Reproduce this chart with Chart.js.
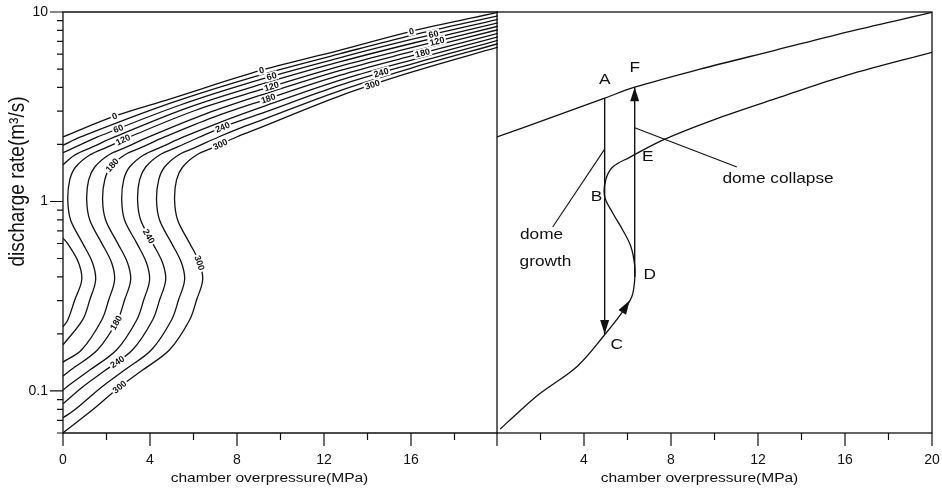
<!DOCTYPE html>
<html>
<head>
<meta charset="utf-8">
<script src="https://cdn.jsdelivr.net/npm/chart.js@4.4.1/dist/chart.umd.min.js"></script>
<style>
  html, body { margin: 0; padding: 0; background: #fff; }
  #wrap { position: relative; width: 942px; height: 490px; overflow: hidden; }
  .panel { position: absolute; top: 0; height: 490px; }
  #left { left: 0; width: 500px; }
  #right { left: 496px; width: 446px; }
</style>
</head>
<body>
<div id="wrap">
  <div class="panel" id="left"><canvas id="leftChart"></canvas></div>
  <div class="panel" id="right"><canvas id="rightChart"></canvas></div>
</div>
<script>
// contours of dome height (m): [chamber overpressure MPa, discharge rate m3/s]
const h0 = [[0, 2.19], [2.37, 2.82], [4.90, 3.47], [9.13, 4.93], [12.71, 6.28], [16.02, 7.91], [20, 9.96]]
const h30 = [[0, 1.98], [0.81, 2.19], [4.97, 3.31], [9.13, 4.67], [12.71, 6.01], [16.02, 7.53], [20, 9.55]]
const h60 = [[0, 1.81], [0.58, 1.94], [1.59, 2.19], [5.36, 3.22], [9.13, 4.42], [12.71, 5.73], [16.02, 7.16], [20, 9.15]]
const h90 = [[0, 1.56], [0.54, 1.76], [1.36, 1.94], [2.37, 2.19], [5.75, 3.13], [9.13, 4.16], [12.71, 5.45], [16.02, 6.82], [20, 8.77]]
const h90Low = [[0, 0.218], [0.22, 0.237], [0.54, 0.302], [0.86, 0.385], [0.72, 0.474], [0.26, 0.589], [0, 0.641]]
const h120 = [[0, 0.175], [0.90, 0.237], [1.23, 0.302], [1.50, 0.385], [1.36, 0.474], [0.90, 0.603], [0.35, 0.798], [0.22, 1.02], [0.31, 1.30], [0.58, 1.52], [1.23, 1.76], [2.05, 1.94], [3.06, 2.19], [6.10, 3.03], [9.13, 3.90], [12.71, 5.17], [16.02, 6.48], [20, 8.41]]
const h150 = [[0, 0.142], [0.86, 0.165], [1.78, 0.237], [2.10, 0.302], [2.37, 0.385], [2.24, 0.474], [1.78, 0.603], [1.23, 0.798], [1.09, 1.02], [1.18, 1.30], [1.46, 1.52], [2.10, 1.76], [2.93, 1.94], [3.94, 2.19], [6.53, 2.89], [9.13, 3.65], [12.71, 4.90], [16.02, 6.17], [20, 8.06]]
const h180 = [[0, 0.120], [0.35, 0.129], [1.59, 0.165], [2.51, 0.237], [2.83, 0.302], [3.11, 0.385], [2.97, 0.474], [2.51, 0.603], [1.96, 0.798], [1.82, 1.02], [1.92, 1.30], [2.19, 1.52], [2.83, 1.76], [3.66, 1.94], [4.67, 2.19], [6.90, 2.78], [9.13, 3.40], [12.71, 4.63], [16.02, 5.87], [20, 7.72]]
const h210 = [[0, 0.101], [0.17, 0.105], [1.23, 0.129], [2.47, 0.165], [3.39, 0.237], [3.71, 0.302], [3.98, 0.385], [3.84, 0.474], [3.39, 0.603], [2.83, 0.798], [2.70, 1.02], [2.79, 1.30], [3.06, 1.52], [3.71, 1.76], [4.53, 1.94], [5.54, 2.19], [7.34, 2.65], [9.13, 3.15], [12.71, 4.36], [16.02, 5.58], [20, 7.40]]
const h240 = [[0, 0.0855], [0.90, 0.105], [1.96, 0.129], [3.20, 0.165], [4.12, 0.237], [4.44, 0.302], [4.72, 0.385], [4.58, 0.474], [4.12, 0.603], [3.57, 0.798], [3.43, 1.02], [3.52, 1.30], [3.80, 1.52], [4.44, 1.76], [5.27, 1.94], [6.28, 2.19], [7.70, 2.56], [9.13, 2.92], [12.71, 4.10], [16.02, 5.31], [20, 7.09]]
const h270 = [[0, 0.0722], [0.54, 0.0795], [1.78, 0.105], [2.83, 0.129], [4.07, 0.165], [4.99, 0.237], [5.31, 0.302], [5.59, 0.385], [5.45, 0.474], [4.99, 0.603], [4.44, 0.798], [4.30, 1.02], [4.40, 1.30], [4.67, 1.52], [5.31, 1.76], [6.14, 1.94], [7.15, 2.19], [8.14, 2.44], [9.13, 2.69], [12.71, 3.84], [16.02, 5.06], [20, 6.80]]
const h300 = [[0, 0.0601], [1.36, 0.0795], [2.60, 0.105], [3.66, 0.129], [4.90, 0.165], [5.82, 0.237], [6.14, 0.302], [6.42, 0.385], [6.28, 0.474], [5.82, 0.603], [5.27, 0.798], [5.13, 1.02], [5.22, 1.30], [5.50, 1.52], [6.14, 1.76], [6.97, 1.94], [7.98, 2.19], [9.13, 2.47], [12.71, 3.60], [16.02, 4.81], [20, 6.52]]

// inline contour labels
const labelLevel = [0, 60, 120, 180, 240, 300, 0, 60, 120, 180, 240, 300, 0, 60, 120, 180, 240, 300, 180, 240, 300]
const labelX = [2.37, 2.60, 2.79, 2.51, 7.34, 7.29, 9.13, 9.59, 9.63, 9.36, 14.69, 14.23, 16.02, 16.98, 17.12, 16.61, 4.07, 6.28, 2.47, 2.51, 2.60]
const labelY = [2.82, 2.44, 2.06, 1.46, 2.44, 1.94, 4.93, 4.64, 4.11, 3.51, 4.81, 4.16, 7.91, 7.72, 7.09, 6.13, 0.665, 0.474, 0.2286, 0.1406, 0.105]

// right panel: the 0 m and 300 m curves and the eruption cycle
const upperCurve = [[0, 2.19], [2.42, 2.75], [4.95, 3.51], [6.33, 4.01], [9.33, 4.99], [12.78, 6.28], [16.24, 7.91], [20, 9.96]]
const lowerCurve = [[0.15, 0.063], [1.0, 0.0775], [1.96, 0.0966], [3.71, 0.1356], [4.95, 0.198], [5.78, 0.262], [6.20, 0.315], [6.33, 0.385], [6.33, 0.46], [6.15, 0.58], [5.78, 0.707], [5.32, 0.87], [4.95, 1.06], [5.00, 1.30], [5.32, 1.52], [6.10, 1.71], [7.62, 2.11], [9.93, 2.69], [13.01, 3.55], [16.1, 4.64], [20, 6.13]]
const lineAC = [[4.95, 3.51], [4.95, 0.2]]
const lineDF = [[6.33, 0.40], [6.33, 4.01]]
const collapseLeader = [[6.33, 2.45], [11.03, 1.52]]
const growthLeader = [[4.95, 1.89], [2.56, 0.733]]
const arrowFrom = [[4.95, 3.51], [6.33, 0.40], [5.78, 0.262]]
const arrowTip = [[4.95, 0.2], [6.33, 4.01], [6.1, 0.30]]
const noteText = ['A', 'F', 'B', 'E', 'C', 'D', 'dome collapse', 'dome', 'growth']
const noteX = [4.95, 6.33, 4.58, 6.93, 5.50, 7.02, 12.92, 2.05, 2.23]
const noteY = [4.37, 5.05, 1.055, 1.71, 0.175, 0.409, 1.31, 0.665, 0.479]

// axes
const xTickMarks = [0, 2, 4, 6, 8, 10, 12, 14, 16, 18, 20]
const leftXLabels = [0, 4, 8, 12, 16]
const rightXLabels = [4, 8, 12, 16, 20]
const yTickLabels = [0.1, 1, 10]

const FONT = '"Liberation Sans", Arial, Helvetica, sans-serif'
const INK = '#111'

const toXY = pts => pts.map(p => ({ x: p[0], y: p[1] }))

const curve = (pts, extra) => Object.assign({
  data: toXY(pts),
  borderColor: INK,
  borderWidth: 1.3,
  pointRadius: 0,
  tension: 0.35,
  fill: false
}, extra)

// the scanned figure is about 15% wider than tall, so text is stretched a bit
const drawText = (ctx, text, x, y, size, rot) => {
  ctx.save()
  ctx.translate(x, y)
  ctx.scale(1.15, 1)
  if (rot) ctx.rotate(rot)
  ctx.font = size + 'px ' + FONT
  ctx.fillStyle = INK
  ctx.textAlign = 'center'
  ctx.textBaseline = 'middle'
  ctx.fillText(text, 0, 0)
  ctx.restore()
}

const drawTicks = (chart, marks, showY) => {
  const { ctx, chartArea: a, scales: { x, y } } = chart
  ctx.save()
  ctx.strokeStyle = INK
  ctx.lineWidth = 1.2
  ctx.beginPath()
  marks.forEach(v => {
    const px = x.getPixelForValue(v)
    ctx.moveTo(px, a.bottom)
    ctx.lineTo(px, a.bottom + (v % 4 === 0 ? 13 : 7))
  })
  if (showY) {
    for (let d = -2; d <= 1; d++) {
      for (let m = 1; m <= 9; m++) {
        const v = m * Math.pow(10, d)
        if (v < y.min * 0.999 || v > y.max * 1.001) continue
        const py = y.getPixelForValue(v)
        ctx.moveTo(a.left, py)
        ctx.lineTo(a.left - (m === 1 ? 13 : 6), py)
      }
    }
  }
  ctx.stroke()
  ctx.restore()
}

// nearest point on a drawn (bezier) line, with its direction
const nearestOnCurve = (pts, tx, ty) => {
  let best = null
  for (let i = 0; i < pts.length - 1; i++) {
    const a = pts[i], b = pts[i + 1]
    const c1x = a.cp2x ?? a.x, c1y = a.cp2y ?? a.y
    const c2x = b.cp1x ?? b.x, c2y = b.cp1y ?? b.y
    for (let s = 0; s <= 24; s++) {
      const t = s / 24, u = 1 - t
      const x = u * u * u * a.x + 3 * u * u * t * c1x + 3 * u * t * t * c2x + t * t * t * b.x
      const y = u * u * u * a.y + 3 * u * u * t * c1y + 3 * u * t * t * c2y + t * t * t * b.y
      let dx = 3 * u * u * (c1x - a.x) + 6 * u * t * (c2x - c1x) + 3 * t * t * (b.x - c2x)
      let dy = 3 * u * u * (c1y - a.y) + 6 * u * t * (c2y - c1y) + 3 * t * t * (b.y - c2y)
      if (Math.abs(dx) + Math.abs(dy) < 1e-6) { dx = b.x - a.x; dy = b.y - a.y }
      const d = (x - tx) * (x - tx) + (y - ty) * (y - ty)
      if (!best || d < best.d) best = { d, x, y, dx, dy }
    }
  }
  return best
}

const drawContourLabels = chart => {
  const { ctx, scales: { x, y } } = chart
  ctx.save()
  ctx.font = 'bold 9px ' + FONT
  ctx.textAlign = 'center'
  ctx.textBaseline = 'middle'
  labelLevel.forEach((level, i) => {
    const tx = x.getPixelForValue(labelX[i])
    const ty = y.getPixelForValue(labelY[i])
    let best = null
    chart.data.datasets.forEach((ds, di) => {
      if (ds.level !== level) return
      const hit = nearestOnCurve(chart.getDatasetMeta(di).data, tx, ty)
      if (hit && (!best || hit.d < best.d)) best = hit
    })
    if (!best) return
    let ang = Math.atan2(best.dy, best.dx)
    if (ang > Math.PI / 2) ang -= Math.PI
    if (ang < -Math.PI / 2) ang += Math.PI
    const text = String(level)
    const w = ctx.measureText(text).width + 3
    ctx.save()
    ctx.translate(best.x, best.y)
    ctx.rotate(ang)
    ctx.fillStyle = '#fff'
    ctx.fillRect(-w / 2, -4.5, w, 9)
    ctx.fillStyle = INK
    ctx.fillText(text, 0, 0.5)
    ctx.restore()
  })
  ctx.restore()
}

const leftDecor = {
  id: 'leftDecor',
  afterDraw(chart) {
    const { ctx, chartArea: a } = chart
    drawContourLabels(chart)
    ctx.save()
    ctx.strokeStyle = INK
    ctx.lineWidth = 1.3
    ctx.beginPath()
    ctx.moveTo(a.right, a.top)
    ctx.lineTo(a.left, a.top)
    ctx.lineTo(a.left, a.bottom)
    ctx.lineTo(a.right, a.bottom)
    ctx.stroke()
    ctx.restore()
    drawTicks(chart, xTickMarks.filter(v => v < 20), true)
    drawText(ctx, 'chamber overpressure(MPa)', (a.left + a.right) / 2 - 11, a.bottom + 45, 13.5)
    drawText(ctx, 'discharge rate(m³/s)', 18, (a.top + a.bottom) / 2 - 41, 19, -Math.PI / 2)
  }
}

const rightDecor = {
  id: 'rightDecor',
  afterDraw(chart) {
    const { ctx, chartArea: a, scales: { x, y } } = chart
    ctx.save()
    ctx.strokeStyle = INK
    ctx.lineWidth = 1.3
    ctx.strokeRect(a.left, a.top, a.right - a.left, a.bottom - a.top)
    ctx.fillStyle = INK
    arrowTip.forEach((tip, i) => {
      const px = x.getPixelForValue(tip[0]), py = y.getPixelForValue(tip[1])
      const fx = x.getPixelForValue(arrowFrom[i][0]), fy = y.getPixelForValue(arrowFrom[i][1])
      const ang = Math.atan2(py - fy, px - fx)
      ctx.save()
      ctx.translate(px, py)
      ctx.rotate(ang)
      ctx.beginPath()
      ctx.moveTo(0, 0)
      ctx.lineTo(-14, -4.5)
      ctx.lineTo(-14, 4.5)
      ctx.closePath()
      ctx.fill()
      ctx.restore()
    })
    ctx.restore()
    noteText.forEach((t, i) => {
      drawText(ctx, t, x.getPixelForValue(noteX[i]), y.getPixelForValue(noteY[i]), 15)
    })
    drawTicks(chart, xTickMarks, false)
    drawText(ctx, 'chamber overpressure(MPa)', (a.left + a.right) / 2 - 15, a.bottom + 45, 13.5)
  }
}

const panelOptions = (xLabels, showY, padding) => ({
  responsive: true,
  maintainAspectRatio: false,
  animation: false,
  events: [],
  layout: { padding },
  plugins: { legend: { display: false }, tooltip: { enabled: false } },
  scales: {
    x: {
      type: 'linear',
      min: 0,
      max: 20,
      // fixed axis height; no extra side room for the end labels
      afterFit: s => { s.height = 57; s.paddingLeft = 0; s.paddingRight = 0 },
      grid: { display: false, drawTicks: false },
      border: { display: false },
      ticks: {
        stepSize: 2,
        autoSkip: false,
        maxRotation: 0,
        padding: 19,
        color: INK,
        font: { family: FONT, size: 14 },
        callback: v => (xLabels.includes(v) ? String(v) : '')
      }
    },
    y: {
      type: 'logarithmic',
      min: 0.06,
      max: 10,
      display: showY,
      afterFit: s => { s.width = showY ? 63 : 0; s.paddingTop = 0; s.paddingBottom = 0 },
      grid: { display: false, drawTicks: false },
      border: { display: false },
      ticks: {
        autoSkip: false,
        padding: 15,
        color: INK,
        font: { family: FONT, size: 14 },
        callback: v => (yTickLabels.some(t => Math.abs(t - v) < t * 1e-6) ? String(v) : '')
      }
    }
  }
})

const contours = [
  [0, h0], [30, h30], [60, h60], [90, h90], [90, h90Low], [120, h120], [150, h150],
  [180, h180], [210, h210], [240, h240], [270, h270], [300, h300]
]

new Chart(document.getElementById('leftChart'), {
  type: 'line',
  data: { datasets: contours.map(([level, pts]) => curve(pts, { level })) },
  options: panelOptions(leftXLabels, true, { top: 12, right: 2, left: 0, bottom: 0 }),
  plugins: [leftDecor]
})

new Chart(document.getElementById('rightChart'), {
  type: 'line',
  data: {
    datasets: [
      curve(upperCurve),
      curve(lowerCurve),
      curve(lineAC, { tension: 0, borderWidth: 1.4 }),
      curve(lineDF, { tension: 0, borderWidth: 1.4 }),
      curve(collapseLeader, { tension: 0, borderWidth: 1.1 }),
      curve(growthLeader, { tension: 0, borderWidth: 1.1 })
    ]
  },
  options: panelOptions(rightXLabels, false, { top: 12, right: 10, left: 1, bottom: 0 }),
  plugins: [rightDecor]
})
</script>
</body>
</html>
